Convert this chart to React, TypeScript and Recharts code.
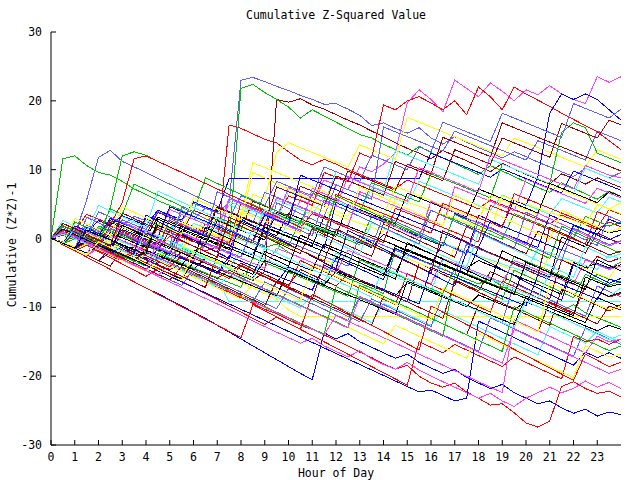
import { LineChart, Line, XAxis, YAxis } from 'recharts'

// hour of day for every sample (half-hour steps)
const hours = [
  0, 0.5, 1, 1.5, 2, 2.5, 3, 3.5, 4, 4.5, 5, 5.5, 6, 6.5, 7, 7.5, 8, 8.5, 9, 9.5, 10, 10.5, 11, 11.5,
  12, 12.5, 13, 13.5, 14, 14.5, 15, 15.5, 16, 16.5, 17, 17.5, 18, 18.5, 19, 19.5, 20, 20.5, 21, 21.5,
  22, 22.5, 23, 23.5, 24,
]

const xTicks = [0, 1, 2, 3, 4, 5, 6, 7, 8, 9, 10, 11, 12, 13, 14, 15, 16, 17, 18, 19, 20, 21, 22, 23]
const yTicks = [-30, -20, -10, 0, 10, 20, 30]

// gnuplot line colours, cycled over the series
const palette = ['#ff0000', '#00c000', '#0000ff', '#ff40ff', '#40ffff', '#a00000', '#ffff00', '#000000', '#6060ff']

const w00 = [
  0, -0.6, -1.3, -0.9, -1.8, -2.5, -3.2,
  -2.6, -3.6, -4.3, -5.1, -5.8, -5.2, -6.3,
  -7, -7.8, -8.6, -9.4, -10.3, -10.9, -11.8,
  -12.6, -13.2, -14, -14.8, -15.6, -16.5, -17.3,
  -18.2, -19, -18.4, -20, -21, -21.6, -21,
  -22.3, -23.2, -24.2, -24, -25.3, -26.8, -27.4,
  -26.5, -21.5, -20.8, -21.8, -22.5, -22.2, -23,
]
const w01 = [
  0, 11.6, 12, 10.6, 9.6, 9.2, 8.3,
  7.2, 6.4, 5.5, 4.8, 4.1, 3.2, 2.4,
  1.6, 0.9, 0.2, -0.6, -1.3, -0.8, -2,
  -2.8, -3.5, -4.3, -5, -5.8, -6.5, -7.2,
  -8, -1.5, -2.2, -3, -3.7, -4.4, -5.2,
  -5.9, -6.6, -5.8, -7, -7.7, -8.4, -9.1,
  -9.8, -10.5, -9.6, -10.8, -11.5, -12.2, -12.9,
]
const w02 = [
  0, -0.9, -1.8, -2.7, -3.6, -4.5, -5.4,
  -6.3, -7.2, -8, -8.9, -9.8, -10.7, -11.6,
  -12.6, -13.6, -14.6, -15.6, -16.6, -17.6, -18.6,
  -19.6, -20.5, -13.7, -14.6, -13.8, -15, -15.8,
  -16.6, -17.4, -16.8, -18, -18.8, -19.6, -19,
  -20.2, -21, -21.8, -21.2, -22.4, -23.2, -24,
  -23.6, -24.6, -25.4, -24.8, -25.8, -25.2, -25.6,
]
const w03 = [
  0, 0.8, 0.2, -0.5, 1.5, 0.9, 0.3,
  -0.4, -1.1, -0.5, -1.3, 2.1, 1.4, 0.8,
  0.1, -0.6, 1.8, 1.1, 3.5, 2.8, 2.1,
  5.6, 4.9, 8.5, 7.8, 7.1, 10.4, 9.7,
  10.8, 12.5, 19.7, 21.6, 20.2, 18.4, 23,
  21.8, 20.6, 22.6, 21.4, 20, 21.6, 20.9,
  22.2, 21, 20.2, 19.6, 23.5, 22.7, 23.5,
]
const w04 = [
  0, -0.7, -1.4, -0.6, -1.3, -2, -1.2,
  -2, -2.8, -3.5, -2.4, -3.3, -4.2, -5,
  -5.8, -9.2, -9.2, -9.2, -9.2, -9.2, -9.2,
  -9.2, -9.2, -9.2, -9.2, -9.2, -9.2, -9.2,
  -9.2, -9.2, -9.2, -9.2, -9.2, -9.2, -9.2,
  -9.2, -9.2, -9.2, -9.2, -9.2, -9.2, -9.2,
  -9.2, -9.2, -9.2, -9.2, -9.2, -9.2, -9.2,
]
const w05 = [
  0, -0.7, -1.4, -0.8, -1.6, -2.3, -3,
  -2.2, -3, -3.8, -4.5, -3.6, -4.4, -5.1,
  -5.8, -4.6, -5.4, -6.1, -4.8, 20.2, 19.8,
  20.3, 19.4, 18.8, 18, 17.2, 16.5, 15.6,
  14.8, 13.9, 13.1, 12.4, 11.6, 12.8, 12,
  11.3, 10.5, 9.7, 10.9, 10.1, 9.3, 8.6,
  7.9, 9.4, 8.7, 7.9, 8.8, 8.1, 7.4,
]
const w06 = [
  0, -0.7, 0.8, 0.1, -0.6, -1.3, -0.5,
  -1.2, -2, -2.7, -1.8, -2.6, -3.4, -4.1,
  -4.9, -5.6, -6.4, -7.2, -8, -8.8, -10.4,
  -11.3, -11.3, -11.3, -11.3, -11.3, -11.3, -11.3,
  -11.3, -11.3, -11.3, -11.3, -11.3, -11.3, -11.3,
  -11.3, -11.3, -11.3, -11.3, -11.3, -11.3, -11.3,
  -11.3, -11.3, -11.3, -11.3, -11.3, -11.3, -11.3,
]
const w07 = [
  0, 0.6, -0.1, -0.8, 0.4, -0.3, -1,
  -1.7, -0.9, -1.6, -2.3, 1.2, 0.5, -0.2,
  -0.9, -1.6, 2.5, 1.8, 1.1, 0.4, 3.6,
  2.9, 2.2, 1.5, 0.8, 0.1, -0.6, -1.3,
  0.6, -0.1, -0.8, -1.5, -2.2, -2.9, -3.6,
  -4.3, -3.2, -3.9, -4.6, -5.3, -6, -6.7,
  -7.4, -8.1, -3.5, -4.2, -3.6, -4.3, -3.8,
]
const w08 = [
  0, -0.5, 0.7, 1.6, 1, 2.5, 1.9,
  3.2, 2.6, 2, 1.3, 3.5, 2.8, 4.4,
  3.8, 5.2, 23, 23.4, 22.8, 22.1, 21.5,
  20.8, 20.2, 19.5, 19.6, 18.8, 17.9, 16.4,
  16.8, 16, 15.3, 16.1, 14.6, 13.7, 14.8,
  14, 13.2, 12.5, 11.7, 12.6, 11.9, 11.1,
  10.4, 9.7, 9, 10.2, 9.5, 8.8, 9.6,
]
const w09 = [
  0, 0.5, -0.2, 1.2, 0.5, -0.2, 0.9,
  0.2, -0.5, -1.2, 0.3, -0.4, -1.1, -1.8,
  -1.2, 16.5, 16, 15.2, 14.4, 13.9, 12.6,
  11.4, 10.7, 11.5, 10.8, 10, 9.3, 8.6,
  7.9, 7.2, 8.5, 7.8, 7.1, 6.4, 5.7,
  5, 4.3, 5.6, 4.9, 4.2, 3.5, 2.8,
  2.1, 3.4, 2.7, 2, 1.3, 2.4, 1.7,
]
const w10 = [
  0, -0.7, -0.1, -0.8, -1.5, -0.6, -1.3,
  -2, -1.1, -1.8, -2.5, -1.4, -2.1, -0.8,
  -1.5, -0.4, 21.8, 22.4, 21.2, 20.2, 19.1,
  17.5, 18.7, 17.8, 16.9, 16, 15.1, 14.6,
  13.7, 12.9, 12.1, 13.4, 12.5, 11.7, 10.9,
  10.1, 9.3, 10.6, 9.8, 9, 8.2, 7.4,
  6.7, 8.1, 7.3, 6.5, 5.7, 6.9, 6.1,
]
const w11 = [
  0, 0.7, 1.5, 0.8, 2.6, 1.9, 3.3,
  2.6, 1.9, 4.1, 3.4, 2.7, 5.3, 4.6,
  3.9, 8.7, 8.7, 8.7, 8.7, 8.7, 8.7,
  8.7, 8.7, 8.7, 8.7, 8.7, 8.7, 8.7,
  8.7, 8.7, 8.7, 8.7, 12.4, 11.7, 11,
  10.3, 9.6, 8.9, 10.1, 9.4, 8.7, 8,
  7.3, 6.6, 9.8, 9.1, 8.4, 7.7, 7,
]
const w12 = [
  0, -0.8, -1.6, -2.4, -1.5, -2.3, -3.1,
  -3.9, -4.7, -5.5, -6.3, -7.1, -7.9, -8.7,
  -9.5, -10.3, -11.1, -12, -12.8, -13.6, -14.4,
  -15.2, -14.5, -15.6, -16.4, -17.2, -16.3, -17.5,
  -18.3, -19, -18, -19.1, -20, -20.8, -21.6,
  -22.4, -23.2, -22.5, -23.6, -24.4, -23.2, -22.4,
  -21.6, -22.4, -21.8, -20.7, -21.6, -20.9, -21.8,
]
const w13 = [
  0, 0.9, 0.2, 1.5, 0.8, 2.4, 1.7,
  1, 2.6, 1.9, 1.2, 3.8, 3.1, 2.4,
  1.7, 4.9, 4.2, 3.5, 2.8, 5.6, 4.9,
  4.2, 3.5, 6.1, 5.4, 4.7, 4, 7.2,
  6.5, 5.8, 5.1, 8.3, 7.6, 6.9, 6.2,
  5.5, 4.8, 4.1, 6.3, 5.6, 4.9, 4.2,
  3.5, 5.8, 5.1, 4.4, 3.7, 6, 5.3,
]
const w14 = [
  0, -0.8, -1.5, -0.6, -1.4, -2.1, -2.9,
  -1.2, -2, -2.8, -3.5, -2, -2.8, -3.6,
  -4.3, -5.1, -3.6, -4.4, -5.2, -6, -6.8,
  -4.5, -5.3, -6.1, -6.9, -5.2, -6, -6.8,
  -7.6, -8.4, -9.2, -3.6, -4.4, -5.2, -6,
  -6.8, -7.6, -4.8, -5.6, -6.4, -7.2, -8,
  -8.8, -3.1, -3.9, -4.7, -2.6, -3.4, -2.8,
]
const w15 = [
  0, -0.6, 0.9, 0.2, -0.5, 1.4, 0.7,
  0, -0.7, 2.1, 1.4, 0.7, 0, 3.2,
  2.5, 1.8, 1.1, 6.4, 5.7, 12.5, 13.9,
  13.2, 12.5, 11.8, 11.1, 10.4, 13.6, 12.9,
  12.2, 11.5, 17.6, 16.9, 16.2, 15.5, 14.8,
  14.1, 13.4, 12.7, 12, 14.6, 13.9, 13.2,
  12.5, 11.8, 11.1, 10.4, 12.9, 12.2, 11.5,
]
const w16 = [
  0, -0.7, -1.4, -0.4, -1.1, -1.8, -2.5,
  -3.2, -1.7, -2.4, -3.1, -3.8, -4.5, -2.9,
  -3.6, -4.3, -5, -5.7, -3.2, -3.9, -4.6,
  -5.3, -6, -6.7, -4.8, -5.5, -6.2, -6.9,
  -7.6, -8.3, -6.4, -7.1, -7.8, -8.5, -9.2,
  -9.9, -8.2, -8.9, -9.6, -10.3, -9.2, -9.9,
  -10.6, -11.3, -12, -12.7, -13.4, -12.6, -13.2,
]
const w17 = [
  0, 1.2, 0.5, 5.6, 11.8, 12.8, 11.2,
  10.4, 9.6, 8.7, 7.9, 7.1, 6.3, 5.5,
  4.7, 3.9, 3.1, 2.3, 6.7, 6, 5.3,
  4.6, 3.9, 3.2, 7.8, 7.1, 6.4, 5.7,
  16.2, 15.5, 14.8, 14.1, 13.4, 12.7, 15.6,
  14.9, 14.2, 13.5, 12.8, 12.1, 11.4, 14.2,
  13.5, 12.8, 12.1, 11.4, 15.6, 14.9, 14.2,
]
const w18 = [
  0, 0.8, 0.1, -0.6, -1.3, 0.4, -0.3,
  -1, -1.7, 1.6, 0.9, 0.2, -0.5, 2.1,
  1.4, 0.7, 0, -0.7, 3.8, 3.1, 6.2,
  5.5, 4.8, 9.6, 8.9, 8.2, 12.4, 11.7,
  19.4, 18.7, 20, 20.6, 19.7, 18.7, 20,
  18, 22, 20.6, 18.7, 22, 21, 20.1,
  19.2, 18.2, 17.3, 16.4, 15.5, 14.2, 12.9,
]
const w19 = [
  0, -0.7, -1.4, -0.5, -1.2, -1.9, -2.6,
  -3.3, -4, -2.2, -2.9, -3.6, -4.3, -5,
  -5.7, -6.4, -7.1, -2.8, -3.5, -4.2, -4.9,
  -5.6, -6.3, -7, -7.7, -8.4, -3.1, -3.8,
  -4.5, -5.2, -5.9, -6.6, -7.3, -8, -4.4,
  -5.1, -5.8, -6.5, -7.2, -2.6, -3.3, -4,
  -4.7, -5.4, -6.1, -6.8, -5.2, -5.9, -6.3,
]
const w20 = [
  0, -0.8, -1.6, -0.7, -1.5, -2.3, -1.2,
  -2, -2.8, -3.6, -1.9, -2.7, -3.5, -4.3,
  -5.1, -3.2, -4, -4.8, -5.6, -6.4, -4.1,
  -4.9, -5.7, -6.5, -2.8, -3.6, -4.4, -5.2,
  -6, -1.4, -2.2, -3, -3.8, -0.6, -1.4,
  -2.2, 3.4, 2.6, 1.8, 5.6, 4.8, 9,
  18.2, 21, 20.2, 21, 20.2, 18.7, 17.2,
]
const w21 = [
  0, -0.7, 1.2, 0.5, -0.2, -0.9, 0.8,
  0.1, -0.6, -1.3, -2, 0.6, -0.1, -0.8,
  -1.5, -2.2, 3.2, 2.5, 1.8, 5.9, 5.2,
  4.5, 3.8, 3.1, 2.4, 1.7, 6.8, 6.1,
  5.4, 4.7, 4, 3.3, 2.6, 1.9, 7.5,
  6.8, 6.1, 5.4, 4.7, 4, 8.6, 7.9,
  7.2, 6.5, 5.8, 5.1, 7.3, 6.6, 5.9,
]
const w22 = [
  0, -0.8, -1.6, -0.7, -1.5, -2.3, -3.1,
  -3.9, -2.2, -3, -3.8, -4.6, -5.4, -6.2,
  -7, -5.3, -6.1, -6.9, -7.7, -8.5, -9.3,
  -10.1, -8.2, -9, -9.8, -10.6, -11.4, -12.2,
  -9.4, -10.2, -11, -11.8, -12.6, -10.5, -11.3,
  -12.1, -12.9, -13.7, -14.5, -15.3, -16.1, -16.9,
  -12.8, -13.6, -14.4, -15.2, -13.5, -14.3, -15.1,
]
const w23 = [
  0, -0.7, 0.9, 0.2, -0.5, 1.8, 1.1,
  0.4, 2.9, 2.2, 1.5, 0.8, 4.1, 3.4,
  2.7, 2, 1.3, 5.4, 4.7, 4, 3.3,
  7.6, 6.9, 6.2, 5.5, 9.8, 9.1, 8.4,
  7.7, 7, 10.8, 10.1, 9.4, 14.7, 14,
  13.3, 12.6, 11.9, 16.8, 16.1, 15.4, 14.7,
  14, 13.3, 12.6, 11.9, 11.2, 10.5, 9.8,
]
const w24 = [
  0, 0.6, -0.1, -0.8, -1.5, 0.3, -0.4,
  -1.1, -1.8, -2.5, -0.4, -1.1, -1.8, -2.5,
  -3.2, -3.9, 1.8, 1.1, 0.4, -0.3, -1,
  -1.7, -2.4, -3.1, -3.8, 0.6, -0.1, -0.8,
  -1.5, -2.2, -2.9, -3.6, -4.3, -5, -1.2,
  -1.9, -2.6, -3.3, -4, -4.7, -5.4, -6.1,
  -2.3, -3, -3.7, -4.4, -5.1, -5.8, -3.2,
]
const w25 = [
  0, -0.6, -1.2, -0.3, -1, -1.7, -2.4,
  -1.1, -1.8, -2.5, -3.2, -3.9, -1.7, -2.4,
  -3.1, -3.8, -4.5, -5.2, -1.9, -2.6, -3.3,
  -4, -4.7, -0.8, -1.5, -2.2, -2.9, -3.6,
  -4.3, -5, -1.6, -2.3, -3, -3.7, -4.4,
  -5.1, -1.4, -2.1, -2.8, -3.5, -4.2, -4.9,
  -5.6, 0.2, -0.5, -1.2, 1.5, 0.8, 1.2,
]
const w26 = [
  0, -0.8, -1.6, -2.4, -1.2, -2, -2.8,
  -3.6, -4.4, -5.2, -6, -6.8, -4.6, -5.4,
  -6.2, -7, -7.8, -8.6, -9.4, -10.2, -7.3,
  -8.1, -8.9, -9.7, -10.5, -11.3, -12.1, -8.8,
  -9.6, -10.4, -11.2, -12, -12.8, -8.2, -9,
  -9.8, -10.6, -11.4, -12.2, -6.5, -7.3, -8.1,
  -8.9, -9.7, -10.5, -11.3, -6.9, -7.7, -8.5,
]
const w27 = [
  0, -0.9, -1.8, -1, -1.9, -2.8, -3.7,
  -4.6, -5.5, -4.4, -5.3, -6.2, -7.1, -8,
  -8.9, -9.8, -10.7, -11.6, -12.5, -11.4, -12.3,
  -13.2, -14.1, -15, -15.9, -16.8, -17.7, -18.6,
  -19.5, -20.4, -21.3, -15, -15.8, -16.6, -15.4,
  -16.2, -17, -17.8, -18.6, -17.2, -18, -18.8,
  -19.6, -20.4, -14.2, -15, -14.6, -15.4, -14.6,
]
const w28 = [
  0, -0.7, 1.4, 0.7, 0, 4.5, 12,
  12.6, 12.1, 11.2, 10.4, 9.6, 8.8, 8,
  7.2, 6.4, 5.6, 4.9, 4.2, 3.5, 2.8,
  2.1, 6.6, 5.9, 5.2, 4.5, 3.8, 8.1,
  7.4, 6.7, 6, 5.3, 9.4, 8.7, 8,
  7.3, 6.6, 5.9, 10.8, 10.1, 9.4, 8.7,
  8, 15.4, 16.8, 16.1, 12.4, 11.7, 11,
]
const w29 = [
  0, -0.8, -1.6, -2.4, -3.2, -1.5, -2.3,
  -3.1, -3.9, -4.7, -5.5, -6.3, -7.1, -7.9,
  -8.7, -9.5, -10.3, -11.1, -11.9, -12.7, -13.5,
  -14.3, -15.1, -15.9, -16.7, -17.5, -18.3, -19.1,
  -19.9, -20.7, -21.5, -22.3, -22, -22.8, -23.6,
  -23.2, -12, -12.8, -13.6, -14.4, -15.2, -16,
  -16.8, -17.6, -18.4, -16.5, -17.3, -16.6, -17.4,
]
const w30 = [
  0, -0.7, -1.4, 0.4, -0.3, -1, -1.7,
  -2.4, -0.5, -1.2, -1.9, -2.6, -3.3, -0.8,
  -1.5, -2.2, -2.9, -3.6, -4.3, -1.4, -2.1,
  -2.8, -3.5, -4.2, -4.9, -1.7, -2.4, -3.1,
  -3.8, -4.5, -5.2, -5.9, -6.6, -2.9, -3.6,
  -4.3, -5, -5.7, -6.4, -3.2, -3.9, -4.6,
  -5.3, -6, -6.7, -3.1, -3.8, -4.5, -4,
]
const w31 = [
  0, 0.7, 0, -0.7, 1.6, 0.9, 0.2,
  2.8, 2.1, 1.4, 0.7, 3.9, 3.2, 2.5,
  1.8, 5.4, 4.7, 4, 3.3, 2.6, 6.9,
  6.2, 5.5, 4.8, 9.7, 9, 8.3, 7.6,
  6.9, 12.8, 12.1, 11.4, 10.7, 10, 9.3,
  8.6, 7.9, 11.5, 10.8, 10.1, 9.4, 8.7,
  8, 7.3, 6.6, 10.2, 9.5, 8.8, 8.1,
]
const w32 = [
  0, -0.8, -1.6, -2.4, -3.2, -2, -2.8,
  -3.6, -4.4, -5.2, -6, -4.1, -4.9, -5.7,
  -6.5, -7.3, -8.1, -8.9, -9.7, -6.2, -7,
  -7.8, -8.6, -9.4, -10.2, -11, -11.8, -12.6,
  -8.4, -9.2, -10, -10.8, -11.6, -12.4, -13.2,
  -14, -9.6, -10.4, -11.2, -12, -12.8, -13.6,
  -9.2, -10, -10.8, -11.6, -12.4, -9.8, -10.4,
]
const w33 = [
  0, -0.7, -1.4, 0.6, -0.1, -0.8, -1.5,
  0.9, 0.2, -0.5, -1.2, -1.9, 1.7, 1,
  0.3, -0.4, 3.4, 11, 10.3, 9.6, 8.9,
  8.2, 7.5, 6.8, 6.1, 5.4, 4.7, 4,
  3.3, 7.6, 6.9, 6.2, 5.5, 4.8, 4.1,
  3.4, 2.7, 6.3, 5.6, 4.9, 4.2, 3.5,
  7.8, 7.1, 6.4, 5.7, 5, 4.3, 5.2,
]
const w34 = [
  0, 0.7, 1.5, 0.8, 0.1, 2.3, 1.6,
  0.9, 0.2, 3.1, 2.4, 1.7, 1, 0.3,
  4.5, 3.8, 3.1, 2.4, 1.7, 1, 0.3,
  -0.4, -1.1, 3.2, 2.5, 1.8, 1.1, 0.4,
  -0.3, -1, -1.7, -2.4, -3.1, -3.8, -4.5,
  -5.2, -5.9, -6.6, -7.3, -8, -8.7, -9.4,
  -10.1, -10.8, -11.5, -12.2, -8.6, -9.3, -10,
]
const w35 = [
  0, -0.8, -1.6, -0.6, -1.4, -2.2, -3,
  -3.8, -4.6, -2.8, -3.6, -4.4, -5.2, -6,
  -6.8, -7.6, -8.4, -9.2, -6.3, -7.1, -7.9,
  -8.7, -9.5, -10.3, -11.1, -11.9, -8.4, -9.2,
  -10, -10.8, -11.6, -12.4, -13.2, -14, -14.8,
  -15.6, -16.4, -11.5, -12.3, -13.1, -13.9, -14.7,
  -15.5, -16.3, -17.1, -13, -13.8, -14.6, -15.4,
]
const w36 = [
  0, 1.2, 0.5, -0.2, -0.9, 1.8, 1.1,
  0.4, -0.3, -1, 2.6, 1.9, 1.2, 0.5,
  -0.2, -0.9, 5.2, 4.5, 3.8, 3.1, 2.4,
  1.7, 1, 0.3, 6.4, 5.7, 5, 4.3,
  3.6, 2.9, 2.2, 1.5, 0.8, 5.1, 4.4,
  3.7, 3, 2.3, 1.6, 6.5, 5.8, 5.1,
  4.4, 3.7, 3, 2.3, 1.6, 4.2, 3.5,
]
const w37 = [
  0, -0.8, 0.6, -0.1, -0.9, -1.7, -2.5,
  -3.3, -1.9, -2.7, -3.5, -4.3, -5.1, -5.9,
  -6.7, -7.5, -8.3, -9.1, -9.9, -10.7, -11.5,
  -12.3, -13.1, -13.9, -7, -7.8, -8.6, -9.4,
  -10.2, -11, -11.8, -12.6, -13.4, -14.2, -5.6,
  -6.4, -7.2, -8, -8.8, -4.6, -5.4, -6.2,
  -7, -7.8, -8.6, -5.2, -6, -6.8, -6.2,
]
const w38 = [
  0, -0.7, 0.9, 0.2, -0.5, -1.2, 1.3,
  0.6, -0.1, -0.8, -1.5, 1.8, 1.1, 0.4,
  -0.3, -1, -1.7, -2.4, 2.1, 1.4, 0.7,
  0, -0.7, -1.4, 5.2, 4.5, 3.8, 3.1,
  2.4, 1.7, 1, 0.3, -0.4, -1.1, 3.6,
  2.9, 2.2, 1.5, 0.8, 0.1, -0.6, -1.3,
  3.4, 2.7, 2, 1.3, 0.6, 2.8, 2.1,
]
const w39 = [
  0, -0.8, -1.6, -2.4, -1.4, -2.2, -3,
  -3.8, -4.6, -5.4, -3.6, -4.4, -5.2, -6,
  -6.8, -7.6, -8.4, -9.2, -10, -10.8, -11.6,
  -12.4, -13.2, -14, -11.2, -12, -12.8, -13.6,
  -14.4, -15.2, -16, -16.8, -17.6, -18.4, -19.2,
  -20, -20.8, -21.6, -22.4, -11.8, -12.6, -13.4,
  -14.2, -15, -15.8, -16.6, -14.2, -15, -14.6,
]
const w40 = [
  0, -0.6, -1.2, 0.9, 0.3, -0.3, -0.9,
  1.4, 0.8, 0.2, -0.4, -1, 2.2, 1.6,
  1, 0.4, -0.2, -0.8, -1.4, -2, 3.1,
  2.5, 1.9, 1.3, 0.7, 0.1, -0.5, -1.1,
  -1.7, -2.3, -2.9, 0.5, -0.1, -0.7, -1.3,
  -1.9, -2.5, -3.1, -3.7, -4.3, -4.9, -1.5,
  -2.1, -2.7, -3.3, -3.9, -4.5, -2.4, -3,
]
const w41 = [
  0, -0.7, 1.1, 0.4, -0.3, 2.6, 1.9,
  1.2, 0.5, 3.8, 3.1, 2.4, 1.7, 1,
  4.6, 3.9, 3.2, 2.5, 1.8, 7.5, 6.8,
  6.1, 5.4, 4.7, 9.1, 8.4, 7.7, 7,
  6.3, 11.2, 10.5, 9.8, 9.1, 8.4, 12.9,
  12.2, 11.5, 10.8, 14.6, 13.9, 13.2, 12.5,
  11.8, 16.7, 16, 15.3, 14.6, 17.2, 16.5,
]
const w42 = [
  0, -0.8, -1.6, -0.8, -1.6, -2.4, -3.2,
  -4, -4.8, -3.2, -4, -4.8, -5.6, -6.4,
  -7.2, -8, -8.8, -6.5, -7.3, -8.1, -8.9,
  -9.7, -10.5, -11.3, -12.1, -12.9, -13.7, -14.5,
  -15.3, -12.6, -13.4, -14.2, -15, -15.8, -16.6,
  -17.4, -13.8, -14.6, -15.4, -16.2, -17, -17.8,
  -18.6, -19.4, -20.2, -15.6, -16.4, -17.2, -16.8,
]
const w43 = [
  0, -0.7, -1.4, -0.4, -1.1, 0.8, 0.1,
  -0.6, -1.3, 1.9, 1.2, 0.5, -0.2, -0.9,
  2.6, 1.9, 1.2, 0.5, -0.2, 3.8, 3.1,
  2.4, 1.7, 1, 0.3, 4.9, 4.2, 3.5,
  2.8, 2.1, 6.6, 5.9, 5.2, 4.5, 3.8,
  3.1, 7.2, 6.5, 5.8, 5.1, 4.4, 3.7,
  8, 7.3, 6.6, 5.9, 5.2, 6.8, 6.1,
]
const w44 = [
  0, 0.8, 0.1, 1.9, 1.2, 0.5, 2.7,
  2, 1.3, 3.9, 3.2, 2.5, 5.1, 4.4,
  3.7, 3, 6.2, 5.5, 4.8, 8.3, 7.6,
  6.9, 6.2, 10.4, 9.7, 9, 8.3, 12.1,
  11.4, 10.7, 10, 13.3, 12.6, 16.9, 16.2,
  15.5, 14.8, 14.1, 18.2, 17.5, 16.8, 16.1,
  15.4, 14.7, 19.6, 18.9, 18.2, 17.5, 18.8,
]
const w45 = [
  0, -0.8, -1.6, -0.5, -1.3, -2.1, -2.9,
  -1.7, -2.5, -3.3, -4.1, -2.6, -3.4, -4.2,
  -5, -5.8, -3.9, -4.7, -5.5, -6.3, -7.1,
  -3.2, -4, -4.8, -5.6, -6.4, -7.2, -8,
  -8.8, -9.6, -5.1, -5.9, -6.7, -7.5, -8.3,
  -9.1, -9.9, -10.7, -6.2, -7, -7.8, -8.6,
  -9.4, -10.2, -11, -6.9, -7.7, -8.5, -8,
]
const w46 = [
  0, 0.7, 0, -0.7, 1.8, 1.1, 0.4,
  -0.3, -1, 2.2, 1.5, 0.8, 0.1, -0.6,
  3.1, 2.4, 1.7, 1, 0.3, -0.4, -1.1,
  2.6, 1.9, 1.2, 0.5, -0.2, -0.9, 3.3,
  2.6, 1.9, 1.2, 0.5, 4.1, 3.4, 2.7,
  2, 1.3, 0.6, -0.1, 3.6, 2.9, 2.2,
  1.5, 0.8, 0.1, 3.2, 2.5, 1.8, 2.4,
]
const w47 = [
  0, -0.7, -1.4, -2.1, -0.9, -1.6, -2.3,
  -3, -3.7, -1.5, -2.2, -2.9, -3.6, -4.3,
  -5, -2.6, -3.3, -4, -4.7, -5.4, -6.1,
  -6.8, -7.5, -3.9, -4.6, -5.3, -6, -6.7,
  -7.4, -8.1, -8.8, -9.5, -4.2, -4.9, -5.6,
  -6.3, -7, -7.7, -8.4, -9.1, -9.8, -5.3,
  -6, -6.7, -7.4, -8.1, -8.8, -5.9, -6.4,
]
const w48 = [
  0, -0.7, 1.6, 0.9, 0.2, -0.5, 2.4,
  1.7, 1, 0.3, 4.2, 3.5, 2.8, 2.1,
  1.4, 5.8, 5.1, 4.4, 3.7, 3, 7.4,
  6.7, 6, 5.3, 4.6, 8.9, 8.2, 7.5,
  6.8, 6.1, 5.4, 10.3, 9.6, 8.9, 8.2,
  7.5, 6.8, 12.1, 11.4, 10.7, 10, 9.3,
  8.6, 7.9, 7.2, 10.6, 9.9, 9.2, 8.8,
]
const w49 = [
  0, 0.6, -0.1, -0.8, -1.5, 0.2, -0.5,
  -1.2, -1.9, -2.6, -0.8, -1.5, -2.2, -2.9,
  -3.6, -4.3, -1.6, -2.3, -3, -3.7, -4.4,
  -5.1, -5.8, -6.5, -2.1, -2.8, -3.5, -4.2,
  -4.9, -5.6, -6.3, -7, -7.7, -3.1, -3.8,
  -4.5, -5.2, -5.9, -6.6, -7.3, -8, -8.7,
  -4.9, -5.6, -6.3, -7, -7.7, -8.4, -7.2,
]
const w50 = [
  0, -0.8, 0.9, 0.1, -0.7, -1.5, 0.6,
  -0.2, -1, -1.8, 1.2, 0.4, -0.4, -1.2,
  -2, 2.6, 1.8, 1, 0.2, -0.6, -1.4,
  -2.2, 1.4, 0.6, -0.2, -1, -1.8, -2.6,
  2.1, 1.3, 0.5, -0.3, -1.1, -1.9, -2.7,
  1.8, 1, 0.2, -0.6, -1.4, -2.2, 1.1,
  0.3, -0.5, -1.3, -2.1, 0.8, 0, -0.8,
]
const w51 = [
  0, -0.6, -1.2, 0.7, 0.1, -0.5, 1.6,
  1, 0.4, -0.2, 2.9, 2.3, 1.7, 1.1,
  0.5, -0.1, 3.8, 3.2, 2.6, 2, 1.4,
  0.8, 4.6, 4, 3.4, 2.8, 2.2, 1.6,
  1, 5.9, 5.3, 4.7, 4.1, 3.5, 2.9,
  2.3, 1.7, 1.1, 6.2, 5.6, 5, 4.4,
  3.8, 3.2, 2.6, 2, 4.9, 4.3, 3.6,
]
const w52 = [
  0, -0.7, -1.4, -2.1, -1, -1.7, -2.4,
  -3.1, -3.8, -4.5, -5.2, -5.9, -3.4, -4.1,
  -4.8, -5.5, -6.2, -6.9, -7.6, -8.3, -4.7,
  -5.4, -6.1, -6.8, -7.5, -8.2, -8.9, -9.6,
  -10.3, -11, -6.2, -6.9, -7.6, -8.3, -9,
  -9.7, -10.4, -11.1, -11.8, -12.5, -8.4, -9.1,
  -9.8, -10.5, -11.2, -5.6, -6.3, -7, -6.6,
]
const w53 = [
  0, 1, 0.3, -0.4, -1.1, 1.4, 0.7,
  0, -0.7, -1.4, -2.1, 0.8, 0.1, -0.6,
  -1.3, -2, -2.7, 1.6, 0.9, 0.2, -0.5,
  -1.2, -1.9, -2.6, -3.3, -4, 0.4, -0.3,
  -1, -1.7, -2.4, -3.1, -3.8, -4.5, -5.2,
  -0.8, -1.5, -2.2, -2.9, -3.6, -4.3, -5,
  -5.7, -1.6, -2.3, -3, -3.7, -4.4, -3.4,
]
const w54 = [
  0, 1.8, 1.1, 3.5, 2.8, 2.1, 5.2,
  11.6, 12, 11.2, 10.4, 9.6, 8.8, 8,
  7.2, 6.4, 5.6, 4.8, 4, 3.2, 2.4,
  1.6, 3.6, 2.9, 2.2, 1.5, 0.8, 0.1,
  -0.6, 4.4, 3.7, 3, 2.3, 1.6, 0.9,
  0.2, -0.5, 4.8, 4.1, 3.4, 2.7, 2,
  1.3, 0.6, -0.1, -0.8, 3.9, 3.2, 2.5,
]
const w55 = [
  0, -0.9, 2.4, 1.6, 0.8, 4.3, 3.5,
  7.9, 7.1, 6.3, 5.5, 4.7, 3.9, 8.8,
  8, 7.2, 6.4, 5.6, 4.8, 4, 3.2,
  2.4, 1.6, 0.8, 6.2, 5.4, 4.6, 3.8,
  3, 2.2, 1.4, 0.6, -0.2, -1, 3.5,
  2.7, 1.9, 1.1, 0.3, -0.5, -1.3, -2.1,
  -2.9, 1.8, 1, 0.2, -0.6, -1.4, -2.2,
]
const w56 = [
  0, -0.9, -1.8, 1.6, 0.7, -0.2, -1.1,
  -2, 3.4, 2.5, 1.6, 0.7, -0.2, -1.1,
  -2, -2.9, 2.8, 1.9, 1, 0.1, -0.8,
  -1.7, -2.6, -3.5, -4.4, 1.2, 0.3, -0.6,
  -1.5, -2.4, -3.3, -4.2, -5.1, -6, -6.9,
  -1.8, -2.7, -3.6, -4.5, -5.4, -6.3, -7.2,
  -8.1, -9, -3.8, -4.7, -5.6, -6.5, -5.8,
]
const w57 = [
  0, -0.8, -1.6, -2.4, 1.3, 0.5, -0.3,
  -1.1, -1.9, -2.7, -3.5, 0.9, 0.1, -0.7,
  -1.5, 5.8, 5, 4.2, 3.4, 2.6, 1.8,
  1, 7.3, 6.5, 5.7, 4.9, 4.1, 3.3,
  2.5, 1.7, 0.9, 0.1, 5.4, 4.6, 3.8,
  3, 2.2, 1.4, 0.6, -0.2, -1, 3.7,
  2.9, 2.1, 1.3, 0.5, -0.3, -1.1, -0.4,
]
const w58 = [
  0, 2.6, 1.8, 1, 4.8, 4, 3.2,
  2.4, 1.6, 6.9, 6.1, 5.3, 4.5, 3.7,
  2.9, 2.1, 1.3, 0.5, 4.2, 3.4, 2.6,
  1.8, 1, 0.2, -0.6, -1.4, -2.2, 2.3,
  1.5, 0.7, -0.1, -0.9, -1.7, -2.5, -3.3,
  -4.1, 0.8, 0, -0.8, -1.6, -2.4, -3.2,
  -4, -4.8, -5.6, -1.2, -2, -2.8, -2.2,
]
const w59 = [
  0, -0.8, -1.6, -2.4, -3.2, -4, -1.5,
  -2.3, -3.1, -3.9, -4.7, -5.5, -6.3, -7.1,
  -2.4, -3.2, -4, -4.8, -5.6, -6.4, -7.2,
  -8, -8.8, -3.6, -4.4, -5.2, -6, -6.8,
  -7.6, -8.4, -9.2, -10, -10.8, -11.6, -6.2,
  -7, -7.8, -8.6, -9.4, -10.2, -11, -11.8,
  -12.6, -7.3, -8.1, -8.9, -9.7, -10.5, -9.6,
]
const w60 = [
  0, -0.8, 2.9, 2.1, 1.3, 0.5, 4.6,
  3.8, 3, 2.2, 1.4, 0.6, 5.9, 5.1,
  4.3, 3.5, 2.7, 9.6, 8.8, 8, 7.2,
  6.4, 5.6, 4.8, 4, 3.2, 7.5, 6.7,
  5.9, 5.1, 4.3, 3.5, 2.7, 1.9, 6.3,
  5.5, 4.7, 3.9, 3.1, 2.3, 1.5, 0.7,
  -0.1, 4.1, 3.3, 2.5, 1.7, 0.9, 1.5,
]
const w61 = [
  0, 1.4, 0.6, -0.2, -1, -1.8, 1.9,
  1.1, 0.3, -0.5, -1.3, -2.1, -2.9, 1.6,
  0.8, 0, -0.8, -1.6, -2.4, -3.2, -4,
  0.5, -0.3, -1.1, -1.9, -2.7, -3.5, -4.3,
  -5.1, -5.9, -0.6, -1.4, -2.2, -3, -3.8,
  -4.6, -5.4, -6.2, -1.8, -2.6, -3.4, -4.2,
  -5, -5.8, -6.6, -7.4, -3.1, -3.9, -4.7,
]
const w62 = [
  0, -0.8, -1.6, 3.1, 2.3, 1.5, 0.7,
  -0.1, -0.9, -1.7, 2.9, 2.1, 1.3, 0.5,
  6.8, 6, 5.2, 4.4, 3.6, 2.8, 2,
  1.2, 0.4, 5.6, 4.8, 4, 3.2, 2.4,
  1.6, 0.8, 0, -0.8, 4.1, 3.3, 2.5,
  1.7, 0.9, 0.1, -0.7, -1.5, 3.8, 3,
  2.2, 1.4, 0.6, -0.2, -1, 3.2, 2.5,
]
const w63 = [
  0, -0.9, -1.8, -2.7, -3.6, -4.5, -5.4,
  -6.3, -7.2, -8.1, -9, -9.9, -10.8, -11.7,
  -12.6, -13.5, -14.4, -9.6, -10.5, -11.4, -12.3,
  -13.2, -8.1, -9, -9.9, -10.8, -11.7, -12.6,
  -13.5, -14.4, -15.3, -16.2, -9.8, -10.7, -11.6,
  -12.5, -13.4, -14.3, -15.2, -16.1, -17, -17.9,
  -18.8, -19.7, -20.6, -16.8, -17.7, -18.6, -18,
]
const w64 = [
  0, 1.9, 1.1, 0.3, -0.5, 3.1, 2.3,
  1.5, 0.7, -0.1, -0.9, -1.7, -2.5, -3.3,
  -4.1, -4.9, -5.7, -6.5, -7.3, -8.1, -8.9,
  -9.7, -10.5, -11.3, -12.1, -12.9, -6.8, -7.6,
  -8.4, -9.2, -10, -10.8, -11.6, -12.4, -13.2,
  -14, -14.8, -15.6, -16.4, -9.9, -10.7, -11.5,
  -12.3, -13.1, -13.9, -14.7, -15.5, -16.3, -15.6,
]
const w65 = [
  0, -0.7, 1.8, 1.1, 0.4, 2.9, 2.2,
  1.5, 0.8, 0.1, 4.6, 3.9, 3.2, 2.5,
  1.8, 1.1, 0.4, -0.3, 3.4, 2.7, 2,
  9.2, 8.5, 7.8, 7.1, 6.4, 5.7, 5,
  4.3, 3.6, 2.9, 2.2, 1.5, 0.8, 0.1,
  -0.6, -1.3, 2.5, 1.8, 1.1, 0.4, -0.3,
  -1, -1.7, 1.9, 1.2, 0.5, -0.2, 0.6,
]
const w66 = [
  0, 0.9, 0.1, -0.7, -1.5, -2.3, -3.1,
  -3.9, -4.7, -0.2, -1, -1.8, -2.6, -3.4,
  -4.2, -5, -5.8, -6.6, -7.4, -8.2, -9,
  -9.8, -10.6, -11.4, -12.2, -13, -8.5, -9.3,
  -10.1, -10.9, -11.7, -12.5, -13.3, -14.1, -14.9,
  -15.7, -16.5, -17.3, -18.1, -13.2, -14, -14.8,
  -15.6, -16.4, -17.2, -18, -18.8, -19.6, -19,
]
const w67 = [
  0, -0.8, 1.4, 0.6, -0.2, -1, -1.8,
  -2.6, 1.2, 0.4, -0.4, -1.2, -2, -2.8,
  -3.6, -4.4, -5.2, -6, -1.3, -2.1, -2.9,
  -3.7, -4.5, -5.3, -6.1, -6.9, -7.7, -8.5,
  -4.2, -5, -5.8, -6.6, -7.4, -8.2, -9,
  -9.8, -10.6, -11.4, -12.2, -13, -9.1, -9.9,
  -10.7, -11.5, -12.3, -13.1, -13.9, -14.7, -14,
]
const w68 = [
  0, 2.2, 1.4, 0.6, -0.2, -1, 3.7,
  2.9, 2.1, 1.3, 0.5, -0.3, -1.1, -1.9,
  -2.7, 3.1, 2.3, 1.5, 0.7, -0.1, -0.9,
  -1.7, -2.5, -3.3, 1.4, 0.6, -0.2, -1,
  -1.8, -2.6, -3.4, -4.2, -5, 1.1, 0.3,
  -0.5, -1.3, -2.1, -2.9, -3.7, -4.5, -5.3,
  1.6, 0.8, 0, -0.8, -1.6, -2.4, -1.8,
]
const w69 = [
  0, -0.8, -1.6, -2.4, -0.5, -1.3, -2.1,
  -2.9, -3.7, -4.5, -5.3, -6.1, -1.8, -2.6,
  -3.4, -4.2, -5, -5.8, -6.6, -7.4, -8.2,
  -9, -3.9, -4.7, -5.5, -6.3, -7.1, -7.9,
  -8.7, -9.5, -10.3, -11.1, -11.9, -7.2, -8,
  -8.8, -9.6, -10.4, -11.2, -12, -12.8, -13.6,
  -6.4, -7.2, -8, -8.8, -9.6, -10.4, -9.8,
]
const w70 = [
  0, -0.7, -1.4, 1.2, 0.5, -0.2, -0.9,
  -1.6, -2.3, 2.8, 2.1, 1.4, 0.7, 0,
  -0.7, -1.4, -2.1, -2.8, 1.6, 0.9, 0.2,
  -0.5, -1.2, -1.9, -2.6, -3.3, -4, -4.7,
  -5.4, -1.1, -1.8, -2.5, -3.2, -3.9, -4.6,
  -5.3, -6, -6.7, -7.4, -8.1, -3.5, -4.2,
  -4.9, -5.6, -6.3, -7, -7.7, -8.4, -7.8,
]
const w71 = [
  0, 1.6, 0.8, 0, 3.9, 3.1, 2.3,
  1.5, 0.7, -0.1, -0.9, 4.5, 3.7, 2.9,
  2.1, 1.3, 0.5, -0.3, -1.1, 5.2, 4.4,
  3.6, 2.8, 2, 1.2, 0.4, -0.4, -1.2,
  3.3, 2.5, 1.7, 0.9, 0.1, -0.7, -1.5,
  -2.3, 2.4, 1.6, 0.8, 0, -0.8, -1.6,
  -2.4, -3.2, 1.5, 0.7, -0.1, -0.9, -0.3,
]

const walks = [
  w00, w01, w02, w03, w04, w05, w06, w07, w08,
  w09, w10, w11, w12, w13, w14, w15, w16, w17,
  w18, w19, w20, w21, w22, w23, w24, w25, w26,
  w27, w28, w29, w30, w31, w32, w33, w34, w35,
  w36, w37, w38, w39, w40, w41, w42, w43, w44,
  w45, w46, w47, w48, w49, w50, w51, w52, w53,
  w54, w55, w56, w57, w58, w59, w60, w61, w62,
  w63, w64, w65, w66, w67, w68, w69, w70, w71,
]

const data = hours.map((h, i) => {
  const row: Record<string, number> = { h }
  walks.forEach((w, k) => {
    row['s' + k] = w[i]
  })
  return row
})

const font = 'DejaVu Sans Mono, monospace'
const tickStyle = { fontFamily: font, fontSize: 11.5, fill: '#000' }

export default function App() {
  return (
    <div style={{ position: 'absolute', left: 0, top: 0, width: 640, height: 480, background: '#fff' }}>
      <LineChart width={640} height={480} data={data} margin={{ top: 32, right: 19, bottom: 5, left: 11 }}>
        <XAxis
          dataKey="h"
          type="number"
          domain={[0, 24]}
          ticks={xTicks}
          interval={0}
          height={30}
          tickSize={-5}
          tickMargin={13}
          tick={tickStyle}
          stroke="#000"
          allowDataOverflow
        />
        <XAxis
          xAxisId="top"
          orientation="top"
          dataKey="h"
          type="number"
          domain={[0, 24]}
          ticks={xTicks}
          interval={0}
          height={0}
          tickSize={-5}
          tick={false}
          stroke="#000"
        />
        <YAxis
          type="number"
          domain={[-30, 30]}
          ticks={yTicks}
          interval={0}
          width={40}
          tickSize={-5}
          tickMargin={14}
          tick={tickStyle}
          stroke="#000"
          allowDataOverflow
        />
        <YAxis
          yAxisId="right"
          orientation="right"
          type="number"
          domain={[-30, 30]}
          ticks={yTicks}
          interval={0}
          width={0}
          tickSize={-5}
          tick={false}
          stroke="#000"
        />
        {walks.map((_, k) => (
          <Line
            key={k}
            dataKey={'s' + k}
            type="linear"
            stroke={palette[k % palette.length]}
            strokeWidth={1}
            dot={false}
            activeDot={false}
            isAnimationActive={false}
            shapeRendering="crispEdges"
          />
        ))}
      </LineChart>
      <svg width={640} height={480} style={{ position: 'absolute', left: 0, top: 0, pointerEvents: 'none' }}>
        <text x={336} y={19} textAnchor="middle" fontFamily={font} fontSize={11.5} fill="#000">
          Cumulative Z-Squared Value
        </text>
        <text x={336} y={477} textAnchor="middle" fontFamily={font} fontSize={11.5} fill="#000">
          Hour of Day
        </text>
        <text
          x={0}
          y={0}
          transform="translate(16 245) rotate(-90)"
          textAnchor="middle"
          fontFamily={font}
          fontSize={11.5}
          fill="#000"
        >
          Cumulative (Z*Z)-1
        </text>
      </svg>
    </div>
  )
}
